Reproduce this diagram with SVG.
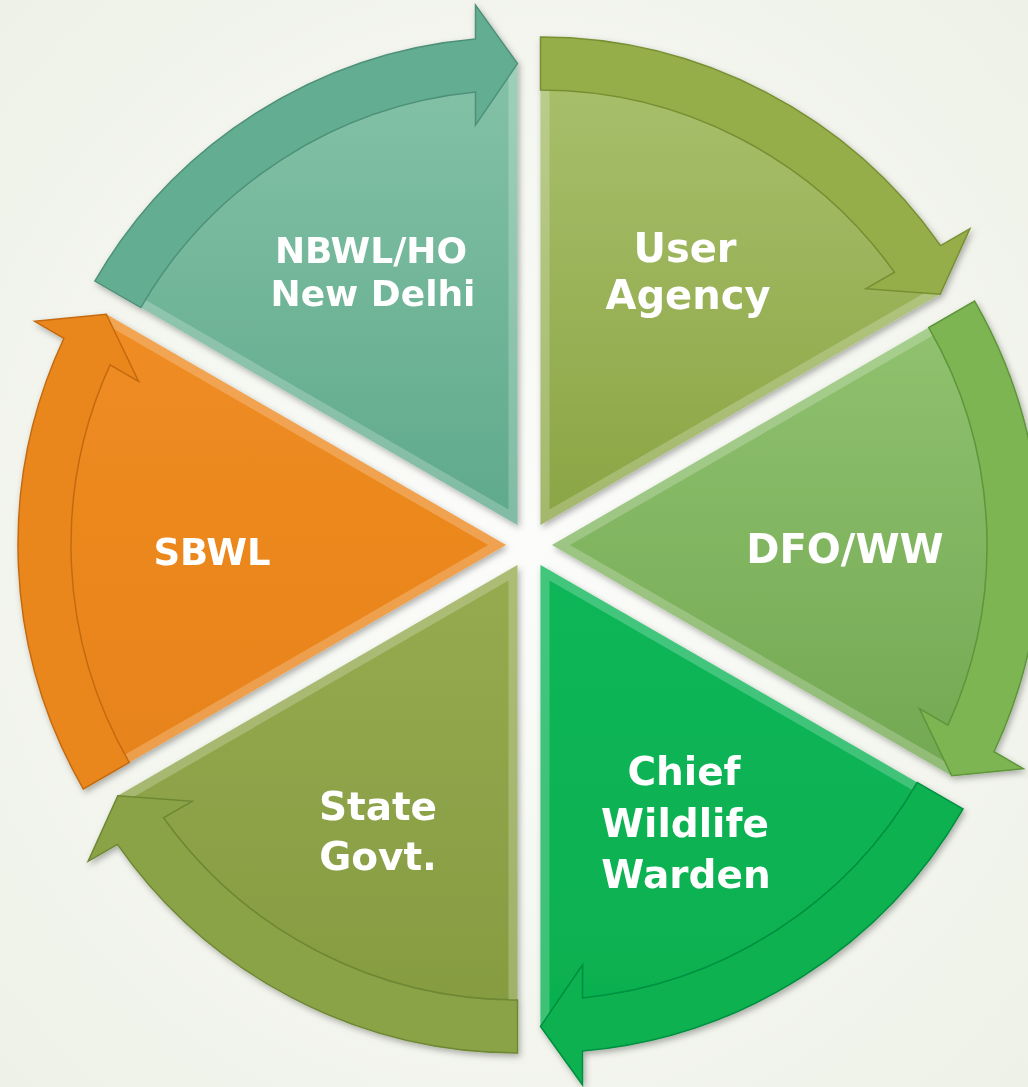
<svg xmlns="http://www.w3.org/2000/svg" width="1028" height="1087" viewBox="0 0 1028 1087">
<style>
.lbl{font-family:"DejaVu Sans","Liberation Sans",sans-serif;font-weight:bold;fill:#ffffff;text-anchor:middle}
.bevel{fill:none;stroke:#ffffff;stroke-opacity:0.22;stroke-width:18}
.band{stroke-width:1.5;stroke-linejoin:miter}
</style>
<defs>
<radialGradient id="bg" cx="50%" cy="50%" r="70%">
<stop offset="0" stop-color="#fcfdfb"/>
<stop offset="1" stop-color="#eef1e7"/>
</radialGradient>
<filter id="sh" x="-10%" y="-10%" width="120%" height="120%">
<feDropShadow dx="2" dy="3" stdDeviation="3" flood-color="#000000" flood-opacity="0.3"/>
</filter>
<linearGradient id="g1" x1="0" y1="0" x2="0" y2="1"><stop offset="0" stop-color="#84c2a7"/><stop offset="1" stop-color="#5fa98c"/></linearGradient>
<linearGradient id="g2" x1="0" y1="0" x2="0" y2="1"><stop offset="0" stop-color="#a9c06c"/><stop offset="1" stop-color="#8aa544"/></linearGradient>
<linearGradient id="g3" x1="0" y1="0" x2="0" y2="1"><stop offset="0" stop-color="#90c26f"/><stop offset="1" stop-color="#73a852"/></linearGradient>
<linearGradient id="g4" x1="0" y1="0" x2="0" y2="1"><stop offset="0" stop-color="#0fb658"/><stop offset="1" stop-color="#06b04f"/></linearGradient>
<linearGradient id="g5" x1="0" y1="0" x2="0" y2="1"><stop offset="0" stop-color="#96ab50"/><stop offset="1" stop-color="#859b40"/></linearGradient>
<linearGradient id="g6" x1="0" y1="0" x2="0" y2="1"><stop offset="0" stop-color="#ef8c22"/><stop offset="1" stop-color="#e7831a"/></linearGradient>
<path id="w1" d="M517.5,525.08 L118.26,294.58 A461,461 0 0 1 517.5,64.08 Z"/>
<path id="w2" d="M540.5,525.08 L540.5,64.08 A461,461 0 0 1 939.74,294.58 Z"/>
<path id="w3" d="M552,545 L951.24,314.5 A461,461 0 0 1 951.24,775.5 Z"/>
<path id="w4" d="M540.5,564.92 L939.74,795.42 A461,461 0 0 1 540.5,1025.92 Z"/>
<path id="w5" d="M517.5,564.92 L517.5,1025.92 A461,461 0 0 1 118.26,795.42 Z"/>
<path id="w6" d="M506,545 L106.76,775.5 A461,461 0 0 1 106.76,314.5 Z"/>
<clipPath id="c1"><use href="#w1"/></clipPath>
<clipPath id="c2"><use href="#w2"/></clipPath>
<clipPath id="c3"><use href="#w3"/></clipPath>
<clipPath id="c4"><use href="#w4"/></clipPath>
<clipPath id="c5"><use href="#w5"/></clipPath>
<clipPath id="c6"><use href="#w6"/></clipPath>
</defs>
<rect x="0" y="0" width="1028" height="1087" fill="url(#bg)"/>

<g id="node-nbwl" filter="url(#sh)">
<use href="#w1" fill="url(#g1)"/>
<use href="#w1" class="bevel" clip-path="url(#c1)"/>
<path class="band" fill="#64ad92" stroke="#4e917a" d="M94.88,281.08 A488,488 0 0 1 475.5,38.89 L475.5,5.08 L517.5,63.58 L475.5,125.08 L475.5,92.11 A435,435 0 0 0 140.78,307.58 Z"/>
<text class="lbl" x="371" y="263" font-size="36">NBWL/HO</text>
<text class="lbl" x="373" y="306" font-size="36">New Delhi</text>
</g>

<g id="node-user" filter="url(#sh)">
<use href="#w2" fill="url(#g2)"/>
<use href="#w2" class="bevel" clip-path="url(#c2)"/>
<path class="band" fill="#95ae48" stroke="#778f33" d="M540.5,37.08 A488,488 0 0 1 940.55,245.61 L969.84,228.71 L940.18,294.33 L865.91,288.71 L894.46,272.22 A435,435 0 0 0 540.5,90.08 Z"/>
<text class="lbl" x="685" y="262" font-size="40">User</text>
<text class="lbl" x="688" y="309" font-size="40">Agency</text>
</g>

<g id="node-dfo" filter="url(#sh)">
<use href="#w3" fill="url(#g3)"/>
<use href="#w3" class="bevel" clip-path="url(#c3)"/>
<path class="band" fill="#7cb551" stroke="#5f953b" d="M974.62,301 A488,488 0 0 1 994.05,751.73 L1023.34,768.63 L951.68,775.75 L919.41,708.63 L947.96,725.12 A435,435 0 0 0 928.72,327.5 Z"/>
<text class="lbl" x="845" y="563" font-size="40">DFO/WW</text>
</g>

<g id="node-cww" filter="url(#sh)">
<use href="#w4" fill="url(#g4)"/>
<use href="#w4" class="bevel" clip-path="url(#c4)"/>
<path class="band" fill="#08b150" stroke="#068e3f" d="M963.12,808.92 A488,488 0 0 1 582.5,1051.11 L582.5,1084.92 L540.5,1026.42 L582.5,964.92 L582.5,997.89 A435,435 0 0 0 917.22,782.42 Z"/>
<text class="lbl" x="684" y="785" font-size="39">Chief</text>
<text class="lbl" x="685" y="837" font-size="39">Wildlife</text>
<text class="lbl" x="686" y="888" font-size="39">Warden</text>
</g>

<g id="node-state" filter="url(#sh)">
<use href="#w5" fill="url(#g5)"/>
<use href="#w5" class="bevel" clip-path="url(#c5)"/>
<path class="band" fill="#8ba347" stroke="#6e8733" d="M517.5,1052.92 A488,488 0 0 1 117.45,844.39 L88.16,861.29 L117.82,795.67 L192.09,801.29 L163.54,817.78 A435,435 0 0 0 517.5,999.92 Z"/>
<text class="lbl" x="378" y="820" font-size="39">State</text>
<text class="lbl" x="378" y="870" font-size="39">Govt.</text>
</g>

<g id="node-sbwl" filter="url(#sh)">
<use href="#w6" fill="url(#g6)"/>
<use href="#w6" class="bevel" clip-path="url(#c6)"/>
<path class="band" fill="#ea871d" stroke="#c46a10" d="M83.38,789 A488,488 0 0 1 63.95,338.27 L34.66,321.37 L106.32,314.25 L138.59,381.37 L110.04,364.88 A435,435 0 0 0 129.28,762.5 Z"/>
<text class="lbl" x="212" y="565" font-size="37">SBWL</text>
</g>

<g id="connectors"></g>
</svg>
